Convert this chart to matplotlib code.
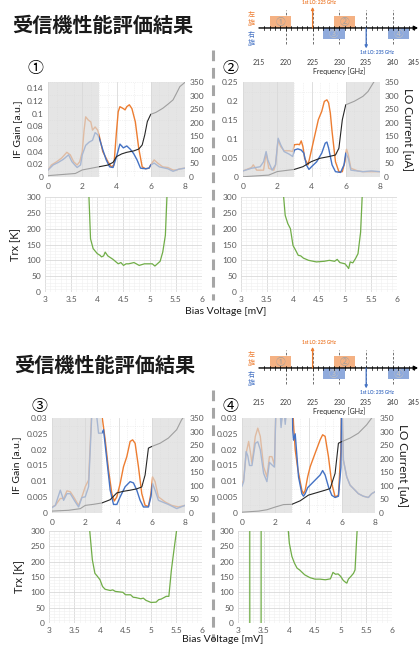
import matplotlib
matplotlib.use('Agg')
import matplotlib.pyplot as plt
from matplotlib.ticker import MultipleLocator, FuncFormatter
from matplotlib.patches import Rectangle
from matplotlib.lines import Line2D

plt.rcParams['font.family'] = ['Lato', 'Noto Sans CJK JP', 'DejaVu Sans']

# ---------------- data ----------------
title_text = '受信機性能評価結果'
freq_ticks = [215, 220, 225, 230, 235, 240, 245]
band_labels = ['①', '②', '③', '④']
band_lo = [217, 229, 227, 239]
band_hi = [221, 233, 231, 243]
band_pol = ['L', 'L', 'R', 'R']
lo_freqs = [225, 235]
lo_labels = ['1st LO: 225 GHz', '1st LO: 235 GHz']

# Panel 1
p1_o_v = [0, 0.2, 0.5, 0.8, 1.1, 1.3, 1.5, 1.7, 1.85, 2.0, 2.1, 2.2, 2.35, 2.5, 2.6, 2.75, 2.9, 3.0, 3.2, 3.5,
          3.7, 3.85, 4.0, 4.1, 4.2, 4.4, 4.5, 4.6, 4.75, 4.9, 5.1, 5.3, 5.5, 5.7, 5.9, 6.0, 6.1, 6.2, 6.4, 6.7,
          7.0, 7.3, 7.5, 7.7, 8.0]
p1_o_g = [0.011, 0.019, 0.024, 0.030, 0.039, 0.035, 0.024, 0.019, 0.024, 0.040, 0.072, 0.095, 0.090, 0.087, 0.074,
          0.079, 0.074, 0.064, 0.040, 0.024, 0.016, 0.019, 0.072, 0.103, 0.111, 0.108, 0.106, 0.111, 0.114, 0.108,
          0.087, 0.045, 0.016, 0.013, 0.014, 0.019, 0.023, 0.027, 0.022, 0.016, 0.015, 0.011, 0.011, 0.013, 0.014]
p1_b_v = [0, 0.3, 0.6, 0.9, 1.2, 1.4, 1.7, 1.9, 2.0, 2.2, 2.4, 2.6, 2.75, 2.9, 3.0, 3.2, 3.4, 3.6, 3.8, 4.0, 4.2,
          4.4, 4.6, 4.8, 5.0, 5.2, 5.4, 5.7, 5.9, 6.0, 6.2, 6.5, 7.0, 7.3, 7.6, 8.0]
p1_b_g = [0.011, 0.019, 0.023, 0.028, 0.035, 0.024, 0.015, 0.019, 0.035, 0.050, 0.055, 0.058, 0.070, 0.067, 0.061,
          0.043, 0.027, 0.016, 0.015, 0.032, 0.052, 0.046, 0.049, 0.044, 0.037, 0.027, 0.014, 0.013, 0.014, 0.019,
          0.022, 0.016, 0.013, 0.009, 0.012, 0.014]
p1_lo_v = [0, 1.0, 1.6, 2.0, 2.5, 3.0, 3.5, 3.8, 4.0, 4.3, 4.6, 5.0, 5.3, 5.5, 5.65, 5.8, 6.0, 6.3, 6.7, 7.0, 7.3,
           7.5, 7.7, 8.0]
p1_lo_i = [5, 10, 13, 26, 32, 38, 44, 54, 75, 85, 91, 96, 103, 118, 155, 204, 231, 238, 253, 268, 284, 308, 333, 349]

# Panel 2
p2_o_v = [0, 0.5, 0.6, 0.8, 1.2, 1.35, 1.5, 1.8, 1.9, 2.05, 2.2, 2.4, 2.7, 2.9, 3.0, 3.2, 3.3, 3.4, 3.5, 3.6, 3.8,
          4.0, 4.2, 4.4, 4.6, 4.75, 4.9, 5.0, 5.1, 5.2, 5.4, 5.6, 5.8, 5.95, 6.05, 6.15, 6.3, 6.7, 7.0, 7.5, 8.0]
p2_o_g = [0.016, 0.025, 0.032, 0.018, 0.018, 0.063, 0.023, 0.018, 0.032, 0.098, 0.080, 0.069, 0.069, 0.067, 0.085,
          0.086, 0.085, 0.095, 0.080, 0.049, 0.032, 0.071, 0.111, 0.151, 0.173, 0.199, 0.203, 0.195, 0.168, 0.120,
          0.040, 0.014, 0.014, 0.040, 0.073, 0.058, 0.023, 0.016, 0.014, 0.014, 0.014]
p2_b_v = [0, 0.5, 1.0, 1.2, 1.35, 1.45, 1.7, 1.9, 2.05, 2.2, 2.4, 2.7, 2.9, 3.0, 3.2, 3.4, 3.55, 3.7, 3.85, 4.0, 4.3,
          4.6, 4.8, 4.9, 5.0, 5.2, 5.4, 5.7, 5.9, 6.0, 6.15, 6.3, 7.0, 7.5, 8.0]
p2_b_g = [0.016, 0.023, 0.027, 0.040, 0.067, 0.045, 0.018, 0.032, 0.102, 0.085, 0.067, 0.060, 0.054, 0.071, 0.074,
          0.071, 0.063, 0.032, 0.020, 0.027, 0.040, 0.063, 0.089, 0.092, 0.076, 0.032, 0.014, 0.012, 0.032, 0.063,
          0.049, 0.018, 0.014, 0.016, 0.014]
p2_lo_v = [0, 1.5, 2.0, 3.0, 3.5, 4.0, 4.5, 5.0, 5.4, 5.6, 5.8, 6.0, 6.5, 7.0, 7.3, 7.6, 7.8]
p2_lo_i = [1, 7, 20, 28, 38, 57, 69, 75, 81, 106, 211, 266, 279, 297, 315, 346, 365]

# Panel 3
p3_o_v = [0, 0.2, 0.5, 0.7, 0.9, 1.1, 1.3, 1.6, 1.8, 2.0, 2.2, 2.3, 2.4, 2.7, 3.0, 3.2, 3.4, 3.6, 3.75, 3.9, 4.1,
          4.3, 4.5, 4.7, 4.85, 5.0, 5.2, 5.4, 5.6, 5.8, 5.95, 6.05, 6.2, 6.4, 6.8, 7.2, 7.6, 8.0]
p3_o_g = [0.0019, 0.0024, 0.0046, 0.0046, 0.0070, 0.0067, 0.0051, 0.0024, 0.0051, 0.0083, 0.0104, 0.0220, 0.0330,
          0.0400, 0.0310, 0.0231, 0.0136, 0.0061, 0.0038, 0.0051, 0.0093, 0.0146, 0.0178, 0.0226, 0.0231, 0.0220,
          0.0146, 0.0061, 0.0024, 0.0021, 0.0061, 0.0114, 0.0099, 0.0051, 0.0035, 0.0024, 0.0019, 0.0024]
p3_b_v = [0, 0.2, 0.5, 0.7, 0.9, 1.1, 1.4, 1.6, 1.8, 2.0, 2.2, 2.3, 2.4, 2.6, 2.8, 3.0, 3.1, 3.3, 3.5, 3.7, 3.9, 4.1,
          4.4, 4.7, 4.9, 5.1, 5.3, 5.5, 5.8, 5.95, 6.05, 6.2, 6.4, 7.0, 7.5, 8.0]
p3_b_g = [0.0017, 0.0024, 0.0072, 0.0040, 0.0061, 0.0061, 0.0035, 0.0019, 0.0049, 0.0051, 0.0083, 0.0200, 0.0320,
          0.0350, 0.0252, 0.0252, 0.0263, 0.0167, 0.0072, 0.0027, 0.0027, 0.0051, 0.0083, 0.0099, 0.0095, 0.0072,
          0.0040, 0.0019, 0.0019, 0.0051, 0.0093, 0.0072, 0.0040, 0.0027, 0.0014, 0.0024]
p3_lo_v = [0, 1.0, 1.7, 2.0, 2.5, 3.0, 3.5, 3.9, 4.3, 4.7, 5.1, 5.4, 5.6, 5.8, 6.0, 6.5, 7.0, 7.5, 7.8, 8.0]
p3_lo_i = [7, 10, 16, 28, 32, 37, 49, 74, 80, 84, 89, 96, 140, 239, 245, 257, 276, 307, 344, 360]

# Panel 4
p4_o_v = [0, 0.1, 0.25, 0.4, 0.5, 0.6, 0.8, 0.95, 1.1, 1.3, 1.5, 1.65, 1.8, 1.95, 2.05, 2.2, 2.35, 2.5, 2.6, 2.8,
          3.0, 3.1, 3.2, 3.35, 3.5, 3.6, 3.7, 3.8, 3.95, 4.1, 4.4, 4.7, 4.85, 5.0, 5.2, 5.4, 5.6, 5.8, 5.95, 6.0,
          6.1, 6.3, 6.5, 6.8, 7.0, 7.3, 7.6, 7.8, 8.0]
p4_o_g = [0.0093, 0.0104, 0.0189, 0.0226, 0.0194, 0.0157, 0.0242, 0.0268, 0.0242, 0.0146, 0.0114, 0.0178, 0.0178,
          0.0152, 0.0350, 0.0400, 0.0280, 0.0350, 0.0290, 0.0400, 0.0400, 0.0280, 0.0200, 0.0141, 0.0099, 0.0072,
          0.0061, 0.0072, 0.0114, 0.0146, 0.0189, 0.0231, 0.0247, 0.0242, 0.0178, 0.0093, 0.0051, 0.0056, 0.0200,
          0.0400, 0.0167, 0.0114, 0.0088, 0.0072, 0.0061, 0.0053, 0.0049, 0.0061, 0.0067]
p4_b_v = [0, 0.1, 0.25, 0.35, 0.45, 0.6, 0.8, 0.95, 1.1, 1.3, 1.5, 1.65, 1.8, 1.95, 2.05, 2.2, 2.35, 2.5, 2.6, 2.8,
          3.0, 3.05, 3.1, 3.2, 3.4, 3.6, 3.7, 3.8, 3.95, 4.1, 4.4, 4.7, 4.85, 5.0, 5.2, 5.4, 5.6, 5.8, 5.95, 6.0,
          6.05, 6.1, 6.3, 6.5, 6.8, 7.0, 7.3, 7.6, 7.8, 8.0]
p4_b_g = [0.0085, 0.0099, 0.0194, 0.0180, 0.0150, 0.0150, 0.0220, 0.0225, 0.0200, 0.0125, 0.0099, 0.0160, 0.0152,
          0.0145, 0.0350, 0.0400, 0.0270, 0.0350, 0.0280, 0.0400, 0.0400, 0.0263, 0.0230, 0.0250, 0.0114, 0.0061,
          0.0053, 0.0061, 0.0080, 0.0088, 0.0104, 0.0120, 0.0134, 0.0120, 0.0083, 0.0056, 0.0049, 0.0053, 0.0144,
          0.0400, 0.0263, 0.0167, 0.0114, 0.0088, 0.0072, 0.0061, 0.0053, 0.0049, 0.0061, 0.0067]
p4_lo_v = [0, 1.0, 1.5, 2.0, 2.5, 3.0, 3.5, 4.0, 4.5, 5.0, 5.3, 5.6, 5.8, 6.0, 6.5, 7.0, 7.5, 7.8, 8.0]
p4_lo_i = [3, 7, 12, 22, 31, 32, 45, 66, 75, 84, 90, 146, 257, 263, 276, 294, 325, 350, 370]

# Trx
t1_v = [3.80, 3.84, 3.87, 3.92, 4.0, 4.05, 4.08, 4.12, 4.15, 4.2, 4.3, 4.4, 4.45, 4.5, 4.55, 4.6, 4.7, 4.8, 4.9,
        5.0, 5.05, 5.1, 5.2, 5.25, 5.3, 5.33, 5.36]
t1_t = [600, 300, 168, 137, 121, 116, 111, 114, 126, 114, 103, 89, 93, 84, 89, 89, 93, 84, 89, 89, 89, 82, 97, 126,
        179, 300, 600]
t2_v = [3.78, 3.82, 3.85, 3.9, 3.95, 4.0, 4.05, 4.1, 4.15, 4.2, 4.3, 4.45, 4.6, 4.7, 4.8, 4.85, 4.9, 5.0, 5.05,
        5.07, 5.1, 5.15, 5.2, 5.25, 5.3, 5.33, 5.36]
t2_t = [600, 300, 242, 216, 200, 147, 132, 116, 114, 107, 100, 95, 97, 100, 97, 103, 93, 89, 79, 74, 95, 92, 105,
        121, 189, 300, 600]
t3_v = [3.77, 3.8, 3.85, 3.9, 3.95, 4.0, 4.05, 4.1, 4.2, 4.25, 4.3, 4.45, 4.5, 4.6, 4.65, 4.7, 4.8, 4.85, 4.9, 5.0,
        5.1, 5.15, 5.2, 5.3, 5.35, 5.4, 5.45, 5.5, 5.53]
t3_t = [600, 298, 206, 162, 152, 141, 119, 110, 106, 108, 103, 100, 92, 92, 84, 83, 79, 81, 74, 67, 68, 76, 78, 87,
        87, 173, 238, 300, 600]
t4_v = [3.0, 3.225, 3.235, 3.445, 3.455, 3.96, 3.98, 4.0, 4.05, 4.1, 4.15, 4.2, 4.3, 4.4, 4.5, 4.6, 4.7, 4.8, 4.85,
        4.9, 4.95, 5.0, 5.05, 5.1, 5.12, 5.15, 5.2, 5.25, 5.28, 5.3, 5.32, 5.35]
t4_t = [2000, 2000, -2000, -2000, 2000, 2000, 300, 260, 217, 195, 179, 173, 157, 148, 143, 143, 141, 144, 165, 159,
        160, 152, 139, 132, 130, 143, 152, 162, 173, 238, 300, 600]

# ---------------- style ----------------
W, H = 420, 646
ORANGE = '#ED7D31'
BLUE = '#4472C4'
GREEN = '#70AD47'
TICKC = '#595959'

fig = plt.figure(figsize=(W / 100, H / 100), dpi=100)
fig.patch.set_facecolor('white')


def px_rect(x0, y0, x1, y1):
    return [x0 / W, 1 - y1 / H, (x1 - x0) / W, (y1 - y0) / H]


gfmt = FuncFormatter(lambda v, p: ('%.4f' % v).rstrip('0').rstrip('.') if v != 0 else '0')


def style_axes(ax):
    for s in ax.spines.values():
        s.set_visible(False)
    ax.tick_params(which='both', length=0, labelsize=6, colors=TICKC, pad=3)


def if_panel(r, ov, og, bv, bg, lv, li, gmax, gstep, left_label, right_label):
    ax = fig.add_axes(px_rect(*r))
    ax.plot(ov, og, color=ORANGE, lw=1.0, zorder=3)
    ax.plot(bv, bg, color=BLUE, lw=1.0, zorder=3)
    ax.set_xlim(0, 8)
    ax.set_ylim(0, gmax)
    ax.xaxis.set_major_locator(MultipleLocator(2))
    ax.xaxis.set_minor_locator(MultipleLocator(0.5))
    ax.yaxis.set_major_locator(MultipleLocator(gstep))
    ax.yaxis.set_minor_locator(MultipleLocator(gstep / 2))
    ax.yaxis.set_major_formatter(gfmt)
    ax.grid(which='major', axis='x', color='#d9d9d9', lw=0.6)
    ax.grid(which='minor', color='#e6e6e6', lw=0.5, ls=':')
    style_axes(ax)
    ax.tick_params(axis='x', pad=4)
    ax2 = ax.twinx()
    ax2.plot(lv, li, color='#262626', lw=0.8, zorder=3)
    ax2.set_ylim(0, 350)
    ax2.yaxis.set_major_locator(MultipleLocator(50))
    style_axes(ax2)
    ax2.axvspan(0, 3, facecolor='#d9d9d9', alpha=0.68, lw=0, zorder=5)
    ax2.axvspan(6, 8, facecolor='#d9d9d9', alpha=0.68, lw=0, zorder=5)
    if left_label:
        ax.set_ylabel('IF Gain [a.u.]', fontsize=7.5, color='#1a1a1a', labelpad=4)
    if right_label:
        ax2.set_ylabel('LO Current [uA]', fontsize=8.5, color='#1a1a1a', rotation=270, labelpad=10)
    return ax


def trx_panel(r, v, t, left_label):
    ax = fig.add_axes(px_rect(*r))
    ax.plot(v, t, color=GREEN, lw=0.9, zorder=3)
    ax.set_xlim(3, 6)
    ax.set_ylim(0, 300)
    ax.xaxis.set_major_locator(MultipleLocator(0.5))
    ax.xaxis.set_minor_locator(MultipleLocator(0.1))
    ax.yaxis.set_major_locator(MultipleLocator(50))
    ax.yaxis.set_minor_locator(MultipleLocator(10))
    ax.xaxis.set_major_formatter(FuncFormatter(lambda v, p: '%g' % v))
    ax.grid(which='major', color='#d9d9d9', lw=0.6)
    ax.grid(which='minor', color='#efefef', lw=0.4)
    style_axes(ax)
    if left_label:
        ax.set_ylabel('Trx [K]', fontsize=8, color='#1a1a1a', labelpad=4)
    return ax


def diagram(yoff):
    ax = fig.add_axes(px_rect(245, yoff, 420, yoff + 76))
    ax.set_xlim(212.39, 245.04)
    ax.set_ylim(-4.0, 2.33)
    ax.axis('off')
    # dashed guide lines
    for f in freq_ticks[1:-1]:
        ax.plot([f, f], [-1.35, 1.5], ls=(0, (3, 2)), color='#595959', lw=0.6, zorder=1)
    # bands
    for lab, lo, hi, pol in zip(band_labels, band_lo, band_hi, band_pol):
        if pol == 'L':
            ax.add_patch(Rectangle((lo, 0), hi - lo, 1.0, facecolor='#F4B183', edgecolor='none', zorder=2))
            ax.text((lo + hi) / 2, 0.5, lab, fontsize=7, color='#a0a0a0', ha='center', va='center', zorder=3,
                    family=['Noto Sans CJK JP'])
        else:
            ax.add_patch(Rectangle((lo, -0.95), hi - lo, 0.95, facecolor='#8FAADC', edgecolor='none', zorder=2))
            ax.text((lo + hi) / 2, -0.47, lab, fontsize=7, color='#c0c0c0', ha='center', va='center', zorder=3,
                    family=['Noto Sans CJK JP'])
    # axis line with arrow
    ax.annotate('', xy=(244.7, 0), xytext=(215, 0),
                arrowprops=dict(arrowstyle='-|>', color='black', lw=1.0, mutation_scale=6,
                                shrinkA=0, shrinkB=0), zorder=4)
    for f in range(freq_ticks[0] + 1, freq_ticks[-1]):
        ax.plot([f, f], [-0.18, 0.18], color='black', lw=0.5, zorder=4)
    # LO arrows
    ax.annotate('', xy=(lo_freqs[0], 1.75), xytext=(lo_freqs[0], 0),
                arrowprops=dict(arrowstyle='-|>', color=ORANGE, lw=0.9, mutation_scale=4, shrinkA=0, shrinkB=0),
                zorder=5)
    ax.text(lo_freqs[0] + 1.2, 2.1, lo_labels[0], fontsize=3.3, color=ORANGE, ha='center', va='center',
            weight='bold')
    ax.annotate('', xy=(lo_freqs[1], -1.7), xytext=(lo_freqs[1], 0),
                arrowprops=dict(arrowstyle='-|>', color=BLUE, lw=0.9, mutation_scale=4, shrinkA=0, shrinkB=0),
                zorder=5)
    ax.text(lo_freqs[1] + 2.0, -2.05, lo_labels[1], fontsize=3.3, color=BLUE, ha='center', va='center',
            weight='bold')
    # polarisation labels
    ax.text(213.6, 0.75, '左\n旋', fontsize=5, color=ORANGE, ha='center', va='center', linespacing=1.0,
            family=['Noto Sans CJK JP'])
    ax.text(213.6, -0.95, '右\n旋', fontsize=5, color=BLUE, ha='center', va='center', linespacing=1.0,
            family=['Noto Sans CJK JP'])
    for f in freq_ticks:
        if f == freq_ticks[-1]:
            ax.text(245.04, -2.85, str(f), fontsize=5, color='#404040', ha='right', va='center')
        else:
            ax.text(f, -2.85, str(f), fontsize=5, color='#404040', ha='center', va='center')
    ax.text(230, -3.6, 'Frequency [GHz]', fontsize=5, color='#262626', ha='center', va='center')


def separator(y0, y1):
    fig.add_artist(Line2D([213 / W, 213 / W], [1 - y0 / H, 1 - y1 / H], transform=fig.transFigure,
                          color='#a6a6a6', lw=2.2, ls=(0, (3.5, 2.2))))


# ---------------- top half ----------------
fig.text(12 / W, 1 - 25 / H, title_text, fontsize=14.5, weight='bold', va='center', ha='left',
         family=['Noto Sans CJK JP'], color='#1a1a1a')
diagram(0)
separator(50, 300)
fig.text(35 / W, 1 - 68 / H, '①', fontsize=11.5, ha='center', va='center', family=['Noto Sans CJK JP'])
fig.text(230 / W, 1 - 68 / H, '②', fontsize=11.5, ha='center', va='center', family=['Noto Sans CJK JP'])
if_panel((48, 82, 185, 177), p1_o_v, p1_o_g, p1_b_v, p1_b_g, p1_lo_v, p1_lo_i, 0.15, 0.02, True, False)
if_panel((243, 82, 380, 177), p2_o_v, p2_o_g, p2_b_v, p2_b_g, p2_lo_v, p2_lo_i, 0.25, 0.05, False, True)
trx_panel((45, 197, 202, 292), t1_v, t1_t, True)
trx_panel((241, 197, 397, 292), t2_v, t2_t, False)
fig.text(226 / W, 1 - 312 / H, 'Bias Voltage [mV]', fontsize=7.5, ha='center', va='center', color='#1a1a1a')

# ---------------- bottom half ----------------
fig.text(14 / W, 1 - 365 / H, title_text, fontsize=14.5, weight='bold', va='center', ha='left',
         family=['Noto Sans CJK JP'], color='#1a1a1a')
diagram(340)
separator(390, 640)
fig.text(40 / W, 1 - 407 / H, '③', fontsize=11.5, ha='center', va='center', family=['Noto Sans CJK JP'])
fig.text(230 / W, 1 - 407 / H, '④', fontsize=11.5, ha='center', va='center', family=['Noto Sans CJK JP'])
if_panel((52, 418, 185, 513), p3_o_v, p3_o_g, p3_b_v, p3_b_g, p3_lo_v, p3_lo_i, 0.03, 0.005, True, False)
if_panel((242, 418, 375, 513), p4_o_v, p4_o_g, p4_b_v, p4_b_g, p4_lo_v, p4_lo_i, 0.03, 0.005, False, True)
trx_panel((49, 531, 202, 623), t3_v, t3_t, True)
trx_panel((238, 531, 392, 623), t4_v, t4_t, False)
fig.text(223 / W, 1 - 640 / H, 'Bias Voltage [mV]', fontsize=7.5, ha='center', va='center', color='#1a1a1a')

fig.savefig('out.png', dpi=100)
